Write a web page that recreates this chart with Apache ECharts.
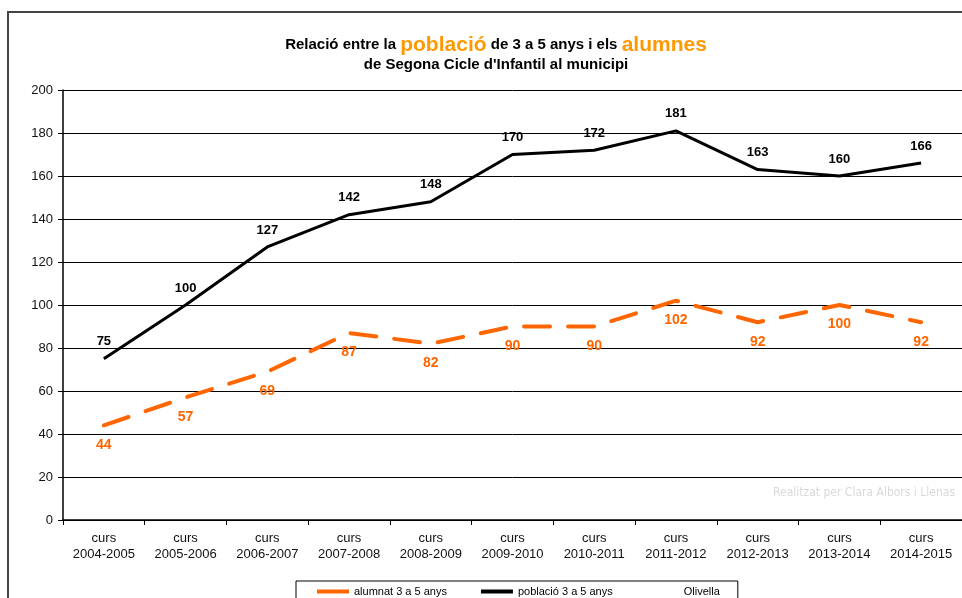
<!DOCTYPE html>
<html><head><meta charset="utf-8">
<script src="https://cdn.jsdelivr.net/npm/echarts@6/dist/echarts.min.js"></script>
<style>html,body{margin:0;padding:0;background:#fff}#c{width:962px;height:598px}</style>
</head><body><div id="c"></div>
<script>
const categories = ['curs\n2004-2005','curs\n2005-2006','curs\n2006-2007','curs\n2007-2008','curs\n2008-2009','curs\n2009-2010','curs\n2010-2011','curs\n2011-2012','curs\n2012-2013','curs\n2013-2014','curs\n2014-2015'];
const alumnat = [44, 57, 69, 87, 82, 90, 90, 102, 92, 100, 92];
const poblacio = [75, 100, 127, 142, 148, 170, 172, 181, 163, 160, 166];
const seriesNames = ['alumnat 3 a 5 anys', 'població 3 a 5 anys', 'Olivella'];

const chart = echarts.init(document.getElementById('c'), null, {renderer: 'canvas'});
const F = 'Liberation Sans, Arial, sans-serif';
chart.setOption({
  animation: false,
  backgroundColor: '#fff',
  textStyle: {fontFamily: F},
  title: {
    left: 491, top: 30, textAlign: 'center',
    text: '{b|Relació entre la }{o|població}{b| de 3 a 5 anys i els }{o|alumnes}\n{b|de Segona Cicle d\'Infantil al municipi}',
    textStyle: {
      rich: {
        b: {fontFamily: F, fontWeight: 'bold', fontSize: 15, color: '#000', lineHeight: 20},
        o: {fontFamily: F, fontWeight: 'bold', fontSize: 21, color: '#ff9900', lineHeight: 20}
      }
    }
  },
  graphic: [
    {type: 'rect', silent: true, z: -1, shape: {x: 8, y: 12, width: 980, height: 620}, style: {fill: 'none', stroke: '#444', lineWidth: 2}},
    {type: 'text', right: 7, top: 487, silent: true, style: {text: 'Realitzat per Clara Albors i Llenas', fill: '#d9d9d9', font: '12px "DejaVu Sans Condensed", "Liberation Sans Narrow", sans-serif'}}
  ],
  grid: {left: 63, top: 90, width: 902, height: 430, containLabel: false},
  legend: {
    left: 296, top: 581,
    data: [
      {name: seriesNames[0], icon: 'rect', itemStyle: {color: '#ff6600'}},
      {name: seriesNames[1], icon: 'rect', itemStyle: {color: '#000'}},
      {name: seriesNames[2], icon: 'none'}
    ],
    itemWidth: 32, itemHeight: 4, itemGap: 34,
    padding: [5, 18, 10, 21],
    borderColor: '#000', borderWidth: 1, backgroundColor: '#fff',
    textStyle: {fontFamily: F, fontSize: 11, color: '#000'}
  },
  xAxis: {
    type: 'category', data: categories, boundaryGap: true,
    axisLine: {lineStyle: {color: '#000', width: 1.5}},
    axisTick: {show: true, length: 5, lineStyle: {color: '#000'}},
    axisLabel: {fontFamily: F, fontSize: 13, color: '#111', margin: 10, lineHeight: 16, interval: 0}
  },
  yAxis: {
    type: 'value', min: 0, max: 200, interval: 20,
    axisLine: {show: true, lineStyle: {color: '#000', width: 1.5}},
    axisTick: {show: true, length: 5, lineStyle: {color: '#000'}},
    axisLabel: {fontFamily: F, fontSize: 13, color: '#111', margin: 10},
    splitLine: {lineStyle: {color: '#000', width: 1}}
  },
  series: [
    {
      name: seriesNames[0], type: 'line', data: alumnat, color: '#ff6600',
      symbol: 'circle', symbolSize: 1, showSymbol: true,
      itemStyle: {color: 'rgba(0,0,0,0)'},
      lineStyle: {color: '#ff6600', width: 4, type: [26, 18], cap: 'round'},
      label: {show: true, position: 'bottom', distance: 12, color: '#ff6600', fontFamily: F, fontWeight: 'bold', fontSize: 14},
      z: 3
    },
    {
      name: seriesNames[1], type: 'line', data: poblacio, color: '#000',
      symbol: 'circle', symbolSize: 1, showSymbol: true,
      itemStyle: {color: 'rgba(0,0,0,0)'},
      lineStyle: {color: '#000', width: 3},
      label: {show: true, position: 'top', distance: 10, color: '#000', fontFamily: F, fontWeight: 'bold', fontSize: 13},
      z: 3
    },
    {
      name: seriesNames[2], type: 'line', data: [], color: 'transparent'
    }
  ]
});
</script></body></html>
